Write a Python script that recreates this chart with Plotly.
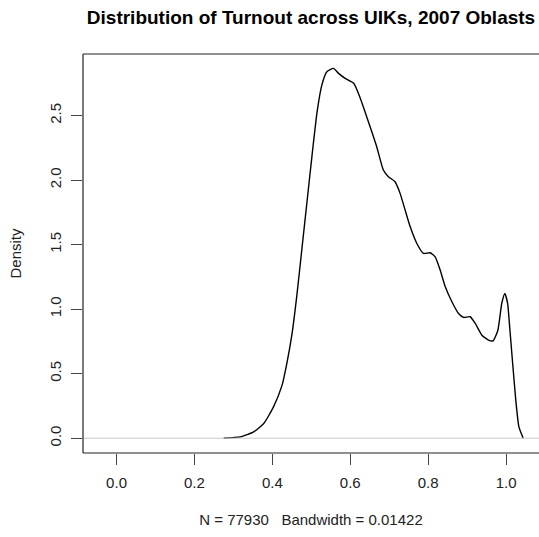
import plotly.graph_objects as go

# Density curve
turnout = [0.275, 0.318, 0.352, 0.378, 0.403, 0.425, 0.438, 0.450, 0.463, 0.476,
           0.489, 0.502, 0.515, 0.527, 0.540, 0.557, 0.570, 0.587, 0.609, 0.626,
           0.651, 0.668, 0.685, 0.698, 0.715, 0.728, 0.741, 0.754, 0.771, 0.788,
           0.805, 0.818, 0.831, 0.844, 0.861, 0.878, 0.891, 0.908, 0.921, 0.938,
           0.955, 0.967, 0.979, 0.989, 0.997, 1.004, 1.010, 1.017, 1.025, 1.033,
           1.044]
density = [0.0, 0.010, 0.049, 0.114, 0.243, 0.411, 0.592, 0.798, 1.109, 1.470,
           1.832, 2.194, 2.530, 2.736, 2.840, 2.866, 2.827, 2.788, 2.750, 2.633,
           2.413, 2.258, 2.078, 2.026, 1.987, 1.897, 1.767, 1.638, 1.509, 1.432,
           1.437, 1.405, 1.302, 1.173, 1.057, 0.966, 0.936, 0.941, 0.889, 0.798,
           0.760, 0.755, 0.837, 1.044, 1.121, 1.044, 0.837, 0.579, 0.295, 0.088,
           0.0]

x_ticks = [0.0, 0.2, 0.4, 0.6, 0.8, 1.0]
x_labels = ["0.0", "0.2", "0.4", "0.6", "0.8", "1.0"]
y_ticks = [0.0, 0.5, 1.0, 1.5, 2.0, 2.5]
y_labels = ["0.0", "0.5", "1.0", "1.5", "2.0", "2.5"]

title = "Distribution of Turnout across UIKs, 2007 Oblasts"
x_title = "N = 77930   Bandwidth = 0.01422"
y_title = "Density"

FONT = "Liberation Sans, Arial, sans-serif"

fig = go.Figure()
fig.add_trace(go.Scatter(x=turnout, y=density, mode="lines",
                         line=dict(color="black", width=1.4, shape="spline", smoothing=0.5),
                         hoverinfo="skip", showlegend=False))

fig.update_layout(
    width=539, height=537,
    margin=dict(l=83, r=0, t=54, b=84, autoexpand=False),
    paper_bgcolor="white", plot_bgcolor="white",
    font=dict(family=FONT, size=15, color="#222"),
    title=dict(text="<b>" + title + "</b>", x=311 / 539, xanchor="center",
               y=1 - 17 / 537, yanchor="middle",
               font=dict(family=FONT, size=19, color="black")),
    xaxis=dict(range=[-0.0861, 1.0846], tickvals=x_ticks, ticktext=x_labels,
               ticks="outside", ticklen=11, tickwidth=1, tickcolor="#444",
               showgrid=False, zeroline=False, showline=False, automargin=False,
               ticklabelstandoff=5,
               title=dict(text=x_title, standoff=24, font=dict(size=15, color="#222"))),
    yaxis=dict(range=[-0.1146, 2.977], tickvals=y_ticks, ticktext=y_labels,
               ticks="outside", ticklen=11, tickwidth=1, tickcolor="#444",
               tickangle=-90, showgrid=False, zeroline=False, showline=False,
               automargin=False, ticklabelstandoff=4,
               title=dict(text=y_title, standoff=21, font=dict(size=15, color="#222"))),
)

# zero line (gray, drawn above the curve as in R)
fig.add_shape(type="line", xref="paper", yref="y", x0=0, x1=1, y0=0, y1=0,
              line=dict(color="#c8c8c8", width=1), layer="above")
# box: left, top, bottom
for x0, y0, x1, y1 in [(0, 0, 0, 1), (0, 1, 1.01, 1), (0, 0, 1.01, 0)]:
    fig.add_shape(type="line", xref="paper", yref="paper", x0=x0, y0=y0, x1=x1, y1=y1,
                  line=dict(color="#222", width=1.2), layer="above")

fig.write_html("out.html", config={"displayModeBar": False},
               post_script="document.body.style.margin='0';")
